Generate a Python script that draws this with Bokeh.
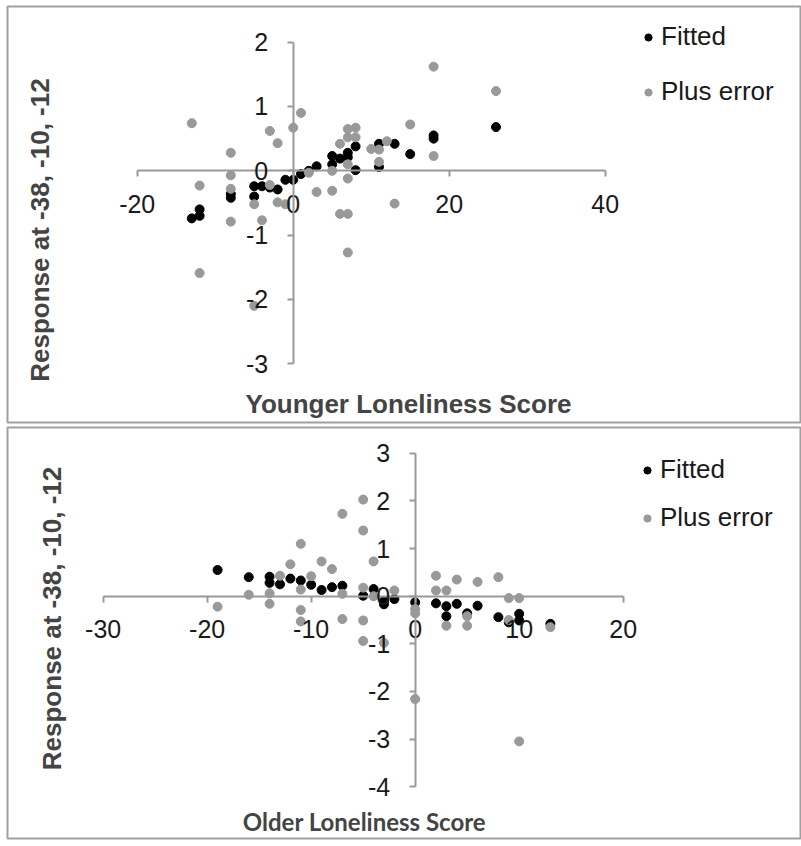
import math

from bokeh.embed import file_html
from bokeh.layouts import column
from bokeh.models import FixedTicker, Label, Range1d
from bokeh.plotting import figure
from bokeh.resources import INLINE

# Younger group: fitted response and fitted response plus residual error
young_fit_x = [-13, -12, -12, -8, -8, -5, -5, -4, -3, -2, -1, 0, 1, 2, 3,
               5, 5, 6, 7, 7, 8, 8, 11, 11, 13, 15, 18, 18, 26]
young_fit_y = [-0.74, -0.60, -0.70, -0.36, -0.42, -0.24, -0.40, -0.24, -0.26,
               -0.29, -0.14, -0.14, -0.05, 0.00, 0.07, 0.23, 0.10, 0.19, 0.28,
               0.21, 0.38, 0.01, 0.42, 0.06, 0.42, 0.26, 0.55, 0.50, 0.68]
young_err_x = [-13, -12, -12, -8, -8, -8, -8, -5, -5, -4, -3, -3, -2, -2, -1,
               0, 1, 2, 3, 5, 5, 6, 6, 7, 7, 7, 7, 7, 7, 8, 8, 10, 11, 11, 12,
               13, 15, 18, 18, 26]
young_err_y = [0.74, -0.23, -1.59, 0.28, -0.07, -0.28, -0.79, -0.52, -2.10,
               -0.77, 0.62, -0.22, 0.43, -0.49, -0.52, 0.67, 0.90, -0.03, -0.33,
               0.00, -0.31, 0.42, -0.67, -0.67, -1.27, -0.12, 0.10, 0.65, 0.52,
               0.67, 0.52, 0.34, 0.33, 0.14, 0.46, -0.51, 0.72, 1.62, 0.23, 1.24]

# Older group
older_fit_x = [-19, -16, -14, -14, -13, -12, -11, -10, -9, -8, -7, -5, -4, -3,
               -3, -2, 0, 2, 3, 3, 4, 5, 6, 8, 9, 10, 10, 13]
older_fit_y = [0.55, 0.40, 0.41, 0.28, 0.25, 0.37, 0.33, 0.24, 0.13, 0.19, 0.22,
               0.01, 0.15, -0.10, -0.17, -0.06, -0.13, -0.15, -0.21, -0.42,
               -0.16, -0.36, -0.20, -0.44, -0.55, -0.37, -0.51, -0.58]
older_err_x = [-19, -16, -14, -14, -13, -12, -11, -11, -11, -11, -10, -9, -8,
               -7, -7, -7, -5, -5, -5, -5, -5, -4, -4, -3, -2, 0, 0, 0, 2, 2,
               3, 3, 4, 5, 5, 6, 8, 9, 9, 10, 10, 13]
older_err_y = [-0.22, 0.03, 0.06, -0.16, 0.43, 0.67, 1.10, 0.14, -0.29, -0.53,
               0.42, 0.73, 0.57, 1.73, 0.05, -0.48, 2.03, 1.38, 0.18, -0.51,
               -0.94, 0.73, 0.00, -0.98, 0.12, -0.27, -0.36, -2.16, 0.43, 0.12,
               0.12, -0.62, 0.35, -0.42, -0.62, 0.30, 0.40, -0.04, -0.50, -0.04,
               -3.05, -0.65]

series_names = ["Fitted", "Plus error"]
y_title = "Response at -38, -10, -12"
young_title = "Younger Loneliness Score"
older_title = "Older Loneliness Score"
young_xticks = [-20, 0, 20, 40]
young_yticks = [-3, -2, -1, 0, 1, 2]
older_xticks = [-30, -20, -10, 0, 10, 20]
older_yticks = [-4, -3, -2, -1, 0, 1, 2, 3]

FONT = "Liberation Sans"
AXIS_GRAY = "#999999"
DOT_GRAY = "#999999"
BOX_GRAY = "#a0a0a0"


def panel(height, xr, yr, top, bottom, xticks, yticks):
    p = figure(width=801, height=height, x_range=Range1d(*xr), y_range=Range1d(*yr),
               output_backend="svg", toolbar_location=None,
               min_border_left=7, min_border_right=1,
               min_border_top=top, min_border_bottom=bottom)
    p.grid.visible = False
    p.outline_line_color = BOX_GRAY
    p.outline_line_width = 2
    p.background_fill_color = "white"
    p.border_fill_color = "white"

    for ax, ticks in ((p.xaxis[0], xticks), (p.yaxis[0], yticks)):
        # axes cross at the origin, spanning only the tick range
        ax.fixed_location = 0
        ax.bounds = (min(ticks), max(ticks))
        ax.ticker = FixedTicker(ticks=ticks)
        ax.major_label_overrides = {t: str(t) for t in ticks}
        ax.minor_tick_line_color = None
        ax.axis_line_color = AXIS_GRAY
        ax.axis_line_width = 2
        ax.major_tick_line_color = AXIS_GRAY
        ax.major_tick_line_width = 2
        ax.major_tick_in = 0
        ax.major_tick_out = 6
        ax.major_label_text_font = FONT
        ax.major_label_text_font_size = "25px"
        ax.major_label_text_color = "#1a1a1a"
    p.xaxis.major_label_standoff = 18
    p.yaxis.major_label_standoff = 19
    return p


def add_points(p, fx, fy, ex, ey):
    p.scatter(fx, fy, size=9, color="black", legend_label=series_names[0])
    p.scatter(ex, ey, size=9, color=DOT_GRAY, legend_label=series_names[1])
    lg = p.legend[0]
    lg.border_line_color = None
    lg.background_fill_alpha = 0
    lg.label_text_font = FONT
    lg.label_text_font_size = "26px"
    lg.label_text_color = "#1a1a1a"
    lg.glyph_width = 18
    lg.glyph_height = 18
    lg.label_standoff = 4
    lg.padding = 0
    lg.margin = 0
    return lg


def title(p, x, y, text, font, size, angle=0.0):
    p.add_layout(Label(x=x, y=y, text=text, angle=angle, text_font=font,
                       text_font_size=size, text_font_style="bold",
                       text_align="center", text_baseline="middle"))


# ---- upper panel: younger adults ----
top = panel(424, (-36.63, 65.04), (-3.914, 2.555), 6, 2, young_xticks, young_yticks)
lg = add_points(top, young_fit_x, young_fit_y, young_err_x, young_err_y)
lg.spacing = 24
lg.location = (632, 315)
title(top, 14.78, -3.634, young_title, FONT, "26px")
title(top, -32.40, -0.921, y_title, FONT, "26px", math.pi / 2)

# ---- lower panel: older adults ----
bot = panel(422, (-39.20, 37.05), (-5.090, 3.544), 3, 8, older_xticks, older_yticks)
lg = add_points(bot, older_fit_x, older_fit_y, older_err_x, older_err_y)
lg.spacing = 17
lg.location = (631, 305)
title(bot, -4.875, -4.733, older_title, "Lato", "24px")
title(bot, -34.90, -0.468, y_title, FONT, "26px", math.pi / 2)

layout = column(top, bot, spacing=0)
open("out.html", "w").write(file_html(layout, INLINE))
